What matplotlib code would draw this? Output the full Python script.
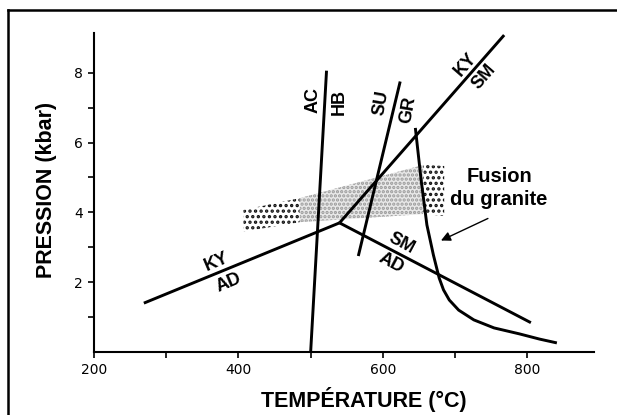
import matplotlib
matplotlib.use("Agg")
import matplotlib.pyplot as plt
from matplotlib.lines import Line2D

# ── data (T in °C, P in kbar) ─────────────────────────────────────
ky_ad_T = [269, 540]
ky_ad_P = [1.40, 3.70]
ky_sm_T = [540, 768]
ky_sm_P = [3.70, 9.08]
sm_ad_T = [540, 805]
sm_ad_P = [3.70, 0.84]
ac_hb_T = [522, 500]
ac_hb_P = [8.06, 0.0]
su_gr_T = [624, 566]
su_gr_P = [7.75, 2.75]
granite_T = [645, 653, 661, 670, 678, 684, 692, 705, 726, 754, 789, 817, 841]
granite_P = [6.42, 4.93, 3.64, 2.78, 2.12, 1.78, 1.49, 1.20, 0.92, 0.69, 0.52, 0.37, 0.26]

# stippled band (fusion du granite)
band_T = [407, 485, 656, 685]
band_top = [4.07, 4.41, 5.36, 5.33]
band_bot = [3.45, 3.72, 3.95, 3.90]

x_major = [200, 400, 600, 800]
x_minor = [300, 500, 700]
y_major = [2, 4, 6, 8]
y_minor = [1, 3, 5, 7]

plt.rcParams["hatch.linewidth"] = 1.6

fig = plt.figure(figsize=(6.17, 4.15), dpi=100)
ax = fig.add_axes([0.1524, 0.1518, 0.811, 0.7687])

# band: dark dots at both ends, light dots in the middle
ax.fill_between(band_T[:2], band_bot[:2], band_top[:2], facecolor="white",
                edgecolor="#111111", hatch="...", linewidth=0, zorder=1)
ax.fill_between(band_T[1:3], band_bot[1:3], band_top[1:3], facecolor="#e8e8e8",
                edgecolor="#9a9a9a", hatch="....", linewidth=0, zorder=1)
ax.fill_between(band_T[2:], band_bot[2:], band_top[2:], facecolor="white",
                edgecolor="#111111", hatch="...", linewidth=0, zorder=1)

lw = 2.1
for T, P in [(ky_ad_T, ky_ad_P), (ky_sm_T, ky_sm_P), (sm_ad_T, sm_ad_P),
             (ac_hb_T, ac_hb_P), (su_gr_T, su_gr_P), (granite_T, granite_P)]:
    ax.plot(T, P, color="black", lw=lw, solid_capstyle="butt",
            solid_joinstyle="round", clip_on=False, zorder=3)

lab = dict(fontsize=13, fontweight="bold", family="Liberation Sans",
           ha="center", va="center", zorder=4)
ax.text(369, 2.59, "KY", rotation=23, **lab)
ax.text(386, 1.97, "AD", rotation=23, **lab)
ax.text(626, 3.11, "SM", rotation=-28, **lab)
ax.text(612, 2.54, "AD", rotation=-28, **lab)
ax.text(714, 8.22, "KY", rotation=49, **lab)
ax.text(740, 7.89, "SM", rotation=49, **lab)
ax.text(504, 7.22, "AC", rotation=90, **lab)
ax.text(539, 7.17, "HB", rotation=90, **lab)
ax.text(598, 7.13, "SU", rotation=80, **lab)
ax.text(635, 6.93, "GR", rotation=80, **lab)

ax.text(761, 5.02, "Fusion", fontsize=14.5, fontweight="bold",
        family="Liberation Sans", ha="center", va="center")
ax.text(761, 4.36, "du granite", fontsize=14.5, fontweight="bold",
        family="Liberation Sans", ha="center", va="center")
ax.annotate("", xy=(677, 3.16), xytext=(749, 3.86),
            arrowprops=dict(arrowstyle="-|>", color="black", lw=1.0,
                            mutation_scale=14))

ax.set_xlim(200, 893)
ax.set_ylim(0, 9.14)
ax.spines["top"].set_visible(False)
ax.spines["right"].set_visible(False)
for s in ("left", "bottom"):
    ax.spines[s].set_linewidth(1.5)

ax.set_xticks(x_major)
ax.set_xticks(x_minor, minor=True)
ax.set_yticks(y_major)
ax.set_yticks(y_minor, minor=True)
ax.tick_params(which="both", direction="out", length=4, width=1.2,
               labelsize=10, pad=4)
for t in ax.get_xticklabels() + ax.get_yticklabels():
    t.set_family("DejaVu Sans")

ax.set_xlabel("TEMPÉRATURE (°C)", fontsize=15.5, fontweight="heavy",
              family="Liberation Sans")
ax.set_ylabel("PRESSION (kbar)", fontsize=15.5, fontweight="heavy",
              family="Liberation Sans")
ax.xaxis.set_label_coords(0.54, -0.15)
ax.yaxis.set_label_coords(-0.094, 0.508)
ax.xaxis.label.set_va("center")
ax.yaxis.label.set_va("center")

# figure frame (cut at right and bottom)
fig.add_artist(Line2D([8 / 617, 1.0], [1 - 10 / 415] * 2, color="black", lw=1.8))
fig.add_artist(Line2D([8 / 617] * 2, [0, 1 - 10 / 415], color="black", lw=1.8))

fig.savefig("out.png", dpi=100)
